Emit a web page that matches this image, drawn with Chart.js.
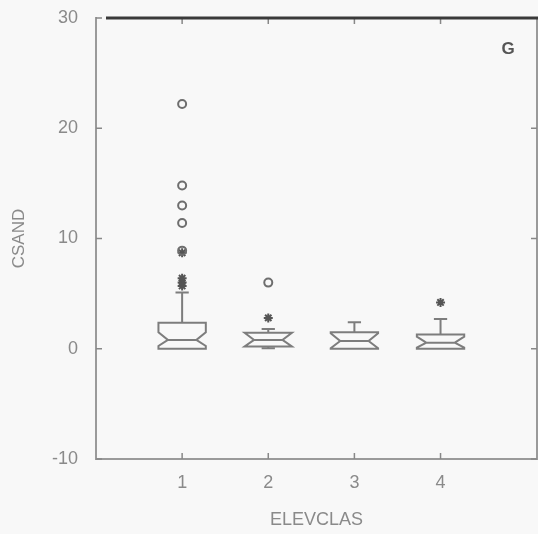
<!DOCTYPE html>
<html>
<head>
<meta charset="utf-8">
<script src="https://cdn.jsdelivr.net/npm/chart.js@4/dist/chart.umd.min.js"></script>
<style>
  body { margin: 0; background: #f8f8f8; }
  #wrap { width: 538px; height: 534px; }
</style>
</head>
<body>
<div id="wrap"><canvas id="myChart"></canvas></div>
<script>
// box plot of CSAND by ELEVCLAS
const categories = [1, 2, 3, 4];
const xTicks = [1, 2, 3, 4];
const yTicks = [-10, 0, 10, 20, 30];

const whiskerLow = [0, 0.05, 0, 0];
const q1 = [0, 0.2, 0, 0];
const notchLow = [0.25, 0.2, 0.05, 0.1];
const median = [0.8, 0.8, 0.7, 0.55];
const notchHigh = [1.5, 1.45, 1.4, 1.1];
const q3 = [2.35, 1.45, 1.5, 1.3];
const whiskerHigh = [5.1, 1.8, 2.4, 2.7];

// asterisks = outside values, circles = far outside values
const outside = [[5.7, 6.0, 6.4, 8.7], [2.8], [], [4.2]];
const farOutside = [[22.2, 14.8, 13.0, 11.4, 8.9], [6.0], [], []];

const boxWidth = 0.55;
const lineGray = '#7d7d7d';
const textGray = '#8a8a8a';
const fontFamily = '"Liberation Sans", Arial, sans-serif';

function toPoints(groups) {
    const pts = [];
    groups.forEach((vals, i) => {
        for (let v of vals) {
            pts.push({ x: categories[i], y: v });
        }
    });
    return pts;
}

const boxPlugin = {
    id: 'boxes',
    beforeDatasetsDraw(chart) {
        const { ctx, scales: { x, y } } = chart;
        ctx.save();
        ctx.strokeStyle = lineGray;
        ctx.lineWidth = 2;
        categories.forEach((c, i) => {
            const cx = x.getPixelForValue(c);
            const hw = x.getPixelForValue(c + boxWidth / 2) - cx;
            const nw = hw * 0.6;
            const cap = hw * 0.28;
            const yq1 = y.getPixelForValue(q1[i]);
            const yq3 = y.getPixelForValue(q3[i]);
            const ymed = y.getPixelForValue(median[i]);
            const ynl = y.getPixelForValue(notchLow[i]);
            const ynh = y.getPixelForValue(notchHigh[i]);
            const ywl = y.getPixelForValue(whiskerLow[i]);
            const ywh = y.getPixelForValue(whiskerHigh[i]);

            // whiskers
            ctx.beginPath();
            ctx.moveTo(cx, yq3); ctx.lineTo(cx, ywh);
            ctx.moveTo(cx - cap, ywh); ctx.lineTo(cx + cap, ywh);
            if (whiskerLow[i] < q1[i]) {
                ctx.moveTo(cx, yq1); ctx.lineTo(cx, ywl);
                ctx.moveTo(cx - cap, ywl); ctx.lineTo(cx + cap, ywl);
            }
            ctx.stroke();

            // notched box
            ctx.beginPath();
            ctx.moveTo(cx - hw, yq3);
            ctx.lineTo(cx - hw, ynh);
            ctx.lineTo(cx - nw, ymed);
            ctx.lineTo(cx - hw, ynl);
            ctx.lineTo(cx - hw, yq1);
            ctx.lineTo(cx + hw, yq1);
            ctx.lineTo(cx + hw, ynl);
            ctx.lineTo(cx + nw, ymed);
            ctx.lineTo(cx + hw, ynh);
            ctx.lineTo(cx + hw, yq3);
            ctx.closePath();
            ctx.moveTo(cx - nw, ymed);
            ctx.lineTo(cx + nw, ymed);
            ctx.stroke();
        });
        ctx.restore();
    }
};

const framePlugin = {
    id: 'frame',
    beforeDraw(chart) {
        const { ctx } = chart;
        ctx.save();
        ctx.fillStyle = '#f8f8f8';
        ctx.fillRect(0, 0, chart.width, chart.height);
        ctx.restore();
    },
    afterDraw(chart) {
        const { ctx, chartArea: a, scales: { x, y } } = chart;
        ctx.save();
        // right spine
        ctx.strokeStyle = '#9a9a9a';
        ctx.lineWidth = 2;
        ctx.beginPath();
        ctx.moveTo(a.right, a.top); ctx.lineTo(a.right, a.bottom);
        ctx.stroke();
        // inward ticks
        ctx.strokeStyle = '#888';
        ctx.lineWidth = 1.5;
        ctx.beginPath();
        for (let v of xTicks) {
            const px = x.getPixelForValue(v);
            ctx.moveTo(px, a.bottom); ctx.lineTo(px, a.bottom - 6);
            ctx.moveTo(px, a.top); ctx.lineTo(px, a.top + 6);
        }
        for (let v of yTicks) {
            const py = y.getPixelForValue(v);
            ctx.moveTo(a.left, py); ctx.lineTo(a.left + 6, py);
            ctx.moveTo(a.right, py); ctx.lineTo(a.right - 6, py);
        }
        ctx.stroke();
        // top spine, dark
        ctx.strokeStyle = '#3a3a3a';
        ctx.lineWidth = 3;
        ctx.beginPath();
        ctx.moveTo(a.left + 10, a.top); ctx.lineTo(a.right + 2, a.top);
        ctx.stroke();
        // panel letter
        ctx.fillStyle = '#555';
        ctx.font = 'bold 17px ' + fontFamily;
        ctx.textAlign = 'center';
        ctx.textBaseline = 'middle';
        ctx.fillText('G', a.right - 29, a.top + 31);
        ctx.restore();
    }
};

const ctx = document.getElementById('myChart').getContext('2d');

const myChart = new Chart(ctx, { // eslint-disable-line
    type: 'scatter',
    data: {
        datasets: [
            {
                label: 'Far outside',
                data: toPoints(farOutside),
                pointStyle: 'circle',
                pointRadius: 4,
                borderColor: '#6e6e6e',
                backgroundColor: 'rgba(0,0,0,0)',
                borderWidth: 2
            },
            {
                label: 'Outside',
                data: toPoints(outside),
                pointStyle: 'star',
                pointRadius: 4.5,
                borderColor: '#555',
                backgroundColor: '#555',
                borderWidth: 2
            }
        ]
    },
    options: {
        responsive: true,
        maintainAspectRatio: false,
        animation: false,
        layout: { autoPadding: false, padding: { top: 18, right: 1 } },
        plugins: {
            legend: { display: false },
            tooltip: { enabled: false }
        },
        scales: {
            x: {
                type: 'linear',
                min: 0,
                max: 5.12,
                afterFit: (s) => {
                    s.height = 75;
                    s.paddingLeft = 0;
                    s.paddingRight = 0;
                },
                afterBuildTicks: (s) => { s.ticks = xTicks.map(v => ({ value: v })); },
                grid: { display: false, drawTicks: false },
                border: { display: true, color: '#9a9a9a', width: 2 },
                ticks: {
                    color: textGray,
                    font: { family: fontFamily, size: 18 },
                    padding: 13
                },
                title: {
                    display: true,
                    text: 'ELEVCLAS',
                    color: textGray,
                    font: { family: fontFamily, size: 18 },
                    padding: { bottom: 3 }
                }
            },
            y: {
                min: -10,
                max: 30,
                afterFit: (s) => {
                    s.width = 96;
                    s.paddingTop = 0;
                    s.paddingBottom = 0;
                },
                afterBuildTicks: (s) => { s.ticks = yTicks.map(v => ({ value: v })); },
                grid: { display: false, drawTicks: false },
                border: { display: true, color: '#9a9a9a', width: 2 },
                ticks: {
                    color: textGray,
                    font: { family: fontFamily, size: 18 },
                    padding: 18
                },
                title: {
                    display: true,
                    text: 'CSAND',
                    color: textGray,
                    font: { family: fontFamily, size: 17 },
                    padding: { top: 9 }
                }
            }
        }
    },
    plugins: [framePlugin, boxPlugin]
});
</script>
</body>
</html>
